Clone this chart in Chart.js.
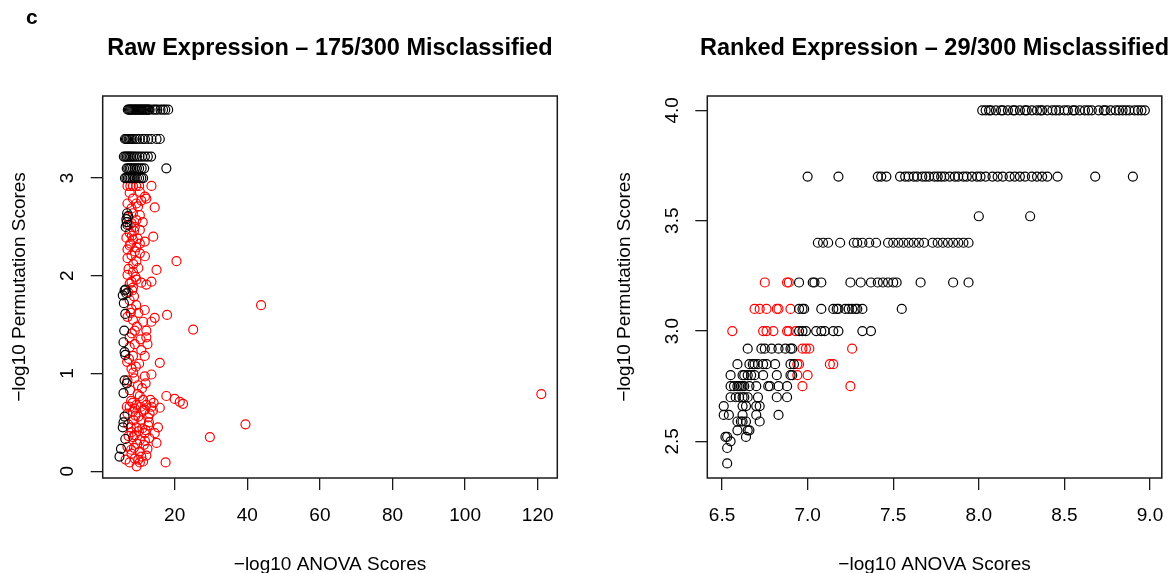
<!DOCTYPE html>
<html><head><meta charset="utf-8">
<script src="https://cdn.jsdelivr.net/npm/chart.js@4.4.0/dist/chart.umd.min.js"></script>
<style>
html,body{margin:0;padding:0;background:#fff;}
#wrap{position:relative;width:1172px;height:573px;overflow:hidden;background:#fff;}
canvas{position:absolute;top:0;}
#c1{left:0;} #c2{left:586px;}
</style></head>
<body><div id="wrap"><canvas id="c1" width="586" height="573"></canvas><canvas id="c2" width="586" height="573"></canvas></div>
<script>
// ---------------- DATA ----------------
const panelLabel = 'c';
const rawTitle = 'Raw Expression – 175/300 Misclassified';
const rankedTitle = 'Ranked Expression – 29/300 Misclassified';
const xAxisTitle = '−log10 ANOVA Scores';
const yAxisTitle = '−log10 Permutation Scores';

const rawXTicks = [20, 40, 60, 80, 100, 120];
const rawYTicks = [0, 1, 2, 3];
const rawYTickLabels = ['0', '1', '2', '3'];
const rankedXTicks = [6.5, 7.0, 7.5, 8.0, 8.5, 9.0];
const rankedXTickLabels = ['6.5', '7.0', '7.5', '8.0', '8.5', '9.0'];
const rankedYTicks = [2.5, 3.0, 3.5, 4.0];
const rankedYTickLabels = ['2.5', '3.0', '3.5', '4.0'];

// Raw expression panel: black (correct) points, rows of discrete permutation scores
const rawBlackLevels = [3.70, 3.40, 3.22, 3.10, 3.00];
const rawBlackRowsX = [
  [7.1,7.4,7.7,8.0,8.3,8.6,8.9,9.2,9.5,9.8,10.1,10.4,10.7,11.0,11.3,11.6,11.9,12.2,12.5,12.8,13.1,14.0,14.6,15.2,16.1,16.8,17.4,18.2],
  [6.3,6.6,6.9,7.3,7.6,8.0,8.4,9.0,9.6,10.4,11.2,11.8,12.7,13.6,15.0,15.9],
  [6.0,6.4,6.8,7.2,7.6,8.0,8.5,9.0,9.6,10.3,11.0,11.8,12.6,13.5],
  [6.8,7.2,7.6,8.0,8.5,9.0,9.6,10.2,10.9,11.6,17.7],
  [6.3,6.7,7.1,7.5,7.9,8.4,9.0,9.6,10.2,10.8,11.3]
];
const rawBlackScatter = [
  [6.9,2.64],[6.7,2.58],[6.8,2.55],[7.0,2.52],[6.5,2.50],[7.2,2.61],
  [6.2,1.85],[5.7,1.80],[6.7,1.82],[6.5,1.86],[6.0,1.72],[6.4,1.61],[6.1,1.44],[5.9,1.32],
  [6.2,1.22],[6.4,1.19],[6.2,0.93],[6.8,0.90],[5.9,0.80],[6.2,0.56],[5.9,0.50],[5.7,0.45],
  [6.4,0.33],[5.2,0.23],[4.8,0.15]
];
const rawRed = [
  [7.0,2.92],[7.8,2.92],[8.5,2.92],[9.4,2.92],[13.6,2.92],[10.2,2.92],
  [7.6,2.85],[10.4,2.86],[11.8,2.81],[8.5,2.79],[12.2,2.79],[9.45,2.74],[14.5,2.70],[7.0,2.74],[9.9,2.71],[8.1,2.69],[10.8,2.77],
  [8.5,2.64],[10.4,2.62],[7.0,2.60],[9.45,2.57],[8.1,2.54],[9.0,2.50],[10.4,2.47],[7.6,2.52],[11.2,2.55],
  [7.6,2.44],[14.1,2.40],[6.7,2.39],[8.5,2.37],[11.75,2.35],[7.6,2.31],[9.45,2.29],[7.0,2.27],[9.0,2.25],[10.4,2.33],[8.2,2.41],
  [10.4,2.23],[8.1,2.21],[7.0,2.18],[9.45,2.15],[20.5,2.15],[8.6,2.12],[15.0,2.06],[8.5,2.04],[7.0,2.01],[10.0,2.08],[11.8,2.20],
  [9.45,1.96],[10.8,1.93],[13.6,1.94],[7.6,1.92],[8.1,1.94],[12.2,1.91],[8.5,1.88],
  [11.75,1.65],[14.5,1.57],[17.9,1.60],[25.1,1.45],[43.8,1.70],[7.6,1.75],[8.1,1.66],[7.0,1.58],[8.5,1.55],[11.3,1.53],
  [13.6,1.53],[12.2,1.44],[9.0,1.44],[7.6,1.37],[12.2,1.37],[9.4,1.70],[10.0,1.62],[8.8,1.79],[7.2,1.83],
  [8.5,1.18],[10.8,1.24],[11.75,1.18],[15.9,1.11],[8.1,1.05],[11.75,0.97],[13.6,0.99],[7.0,0.93],[9.9,0.88],[9.0,1.30],
  [7.6,1.27],[10.2,1.10],[8.6,1.01],[6.9,1.12],[12.5,1.30],
  [10.4,0.77],[11.3,0.73],[17.7,0.77],[20.0,0.74],[21.4,0.71],[22.3,0.69],[7.6,0.66],[9.45,0.68],[12.2,0.68],[13.6,0.66],
  [15.9,0.65],[7.0,0.59],[8.5,0.61],[11.3,0.62],[13.1,0.59],[121.0,0.79],[8.0,0.72],[9.0,0.64],[10.0,0.56],[12.7,0.55],[6.8,0.66],[14.2,0.70],
  [10.8,0.52],[12.7,0.47],[9.45,0.45],[15.4,0.45],[8.1,0.40],[11.75,0.39],[14.5,0.39],[8.5,0.35],[10.4,0.32],[15.0,0.29],
  [29.7,0.35],[39.5,0.48],[7.2,0.48],[9.0,0.37],[13.0,0.34],[12.0,0.42],
  [7.0,0.25],[10.4,0.20],[8.1,0.18],[10.8,0.15],[7.6,0.09],[10.4,0.09],[11.3,0.10],[17.5,0.09],[9.0,0.13],[8.0,0.22],
  [11.5,0.27],[12.2,0.16],[6.5,0.12],[9.5,0.05],
  [7.8,2.33],[8.8,2.46],[9.8,2.38],[7.3,2.07],[9.2,1.99],[8.3,1.85],[7.9,1.62],[9.6,1.48],[8.2,1.41],[10.6,1.35],
  [7.4,1.15],[9.3,1.07],[8.9,0.95],[7.7,0.83],[11.0,0.85],[9.8,0.79],[8.4,0.70],[10.7,0.66],[11.8,0.63],[9.2,0.57],
  [8.7,0.52],[7.9,0.45],[11.1,0.44],[10.1,0.41],[12.9,0.50],[9.7,0.28],[8.8,0.24],[11.8,0.31],[10.0,0.12],[12.5,0.23],
  [7.3,0.36],[13.3,0.73],[12.0,0.90],[14.0,0.62]
];

// Ranked expression panel: rows of discrete permutation scores
const rankedLevels = [4.00, 3.70, 3.52, 3.40, 3.22, 3.10, 3.00, 2.92, 2.85, 2.80, 2.75, 2.70, 2.66, 2.62, 2.59, 2.55, 2.52, 2.50, 2.47, 2.40];
const rankedBlackX = [
  [8.02,8.04,8.06,8.07,8.10,8.13,8.14,8.17,8.20,8.21,8.24,8.27,8.28,8.31,8.34,8.36,8.37,8.40,8.43,8.45,8.47,8.50,8.52,8.55,8.56,8.59,8.62,8.64,8.66,8.70,8.73,8.74,8.77,8.80,8.82,8.84,8.86,8.88,8.91,8.93,8.95,8.97],
  [7.00,7.18,7.41,7.43,7.46,7.54,7.57,7.59,7.62,7.64,7.67,7.69,7.71,7.74,7.76,7.78,7.80,7.83,7.86,7.88,7.91,7.93,7.96,7.99,8.01,8.04,8.08,8.11,8.14,8.18,8.21,8.24,8.27,8.31,8.34,8.37,8.40,8.46,8.68,8.90],
  [8.00,8.30],
  [7.06,7.09,7.12,7.19,7.27,7.29,7.32,7.36,7.40,7.47,7.50,7.53,7.56,7.59,7.62,7.65,7.68,7.73,7.76,7.79,7.82,7.85,7.88,7.91,7.94],
  [6.95,7.03,7.04,7.08,7.25,7.31,7.37,7.41,7.44,7.47,7.50,7.52,7.66,7.85,7.94],
  [6.95,6.97,6.98,7.08,7.15,7.17,7.18,7.22,7.24,7.26,7.28,7.29,7.32,7.55],
  [6.95,6.97,6.99,7.05,7.08,7.10,7.15,7.18,7.32,7.37],
  [6.65,6.73,6.75,6.79,6.83,6.87,6.90,6.91],
  [6.59,6.66,6.68,6.69,6.71,6.74,6.76,6.81,6.90,6.92],
  [6.55,6.62,6.63,6.65,6.67,6.69,6.74,6.82,6.90,6.91],
  [6.55,6.57,6.59,6.60,6.61,6.62,6.63,6.66,6.70,6.77,6.78,6.83,6.88],
  [6.55,6.58,6.60,6.62,6.63,6.65,6.71,6.82,6.88],
  [6.51,6.62,6.64,6.70,6.72],
  [6.51,6.54,6.62,6.70,6.83],
  [6.59,6.61,6.62,6.64,6.72],
  [6.59,6.65,6.66],
  [6.52,6.53,6.64],
  [6.55],
  [6.53],
  [6.53]
];
const rankedRedX = [
  [], [], [], [],
  [6.75,6.88,6.89],
  [6.69,6.72,6.76,6.82,6.83,6.90],
  [6.56,6.74,6.76,6.80,6.88,6.89,6.93],
  [6.97,6.99,7.01,7.26],
  [6.94,6.95,7.13,7.15],
  [6.94,7.00],
  [6.97,7.25],
  [], [], [], [], [], [], [], [], []
];

// ---------------- BUILD ----------------
function rowsToPoints(levels, rows) {
  const out = [];
  rows.forEach((xs, i) => xs.forEach(x => out.push({x: x, y: levels[i]})));
  return out;
}
const rawBlackPts = rowsToPoints(rawBlackLevels, rawBlackRowsX).concat(rawBlackScatter.map(p => ({x: p[0], y: p[1]})));
const rawRedPts = rawRed.map(p => ({x: p[0], y: p[1]}));
const rankedBlackPts = rowsToPoints(rankedLevels, rankedBlackX);
const rankedRedPts = rowsToPoints(rankedLevels, rankedRedX);

const FONT = "'Liberation Sans', Arial, Helvetica, sans-serif";

const rFrame = {
  id: 'rFrame',
  afterDraw(chart, args, o) {
    const ctx = chart.ctx, a = chart.chartArea;
    ctx.save();
    ctx.strokeStyle = '#1a1a1a';
    ctx.lineWidth = 1.5;
    ctx.strokeRect(a.left, a.top, a.right - a.left, a.bottom - a.top);
    // rotated y tick labels (R style, parallel to axis)
    const ys = chart.scales.y;
    ctx.fillStyle = '#000';
    ctx.font = '19px ' + FONT;
    ctx.textAlign = 'center';
    ctx.textBaseline = 'middle';
    o.yTicks.forEach((v, i) => {
      const py = ys.getPixelForValue(v);
      ctx.save();
      ctx.translate(o.yLabelX, py);
      ctx.rotate(-Math.PI / 2);
      ctx.fillText(o.yLabels[i], 0, 0);
      ctx.restore();
    });
    // main title centred on plot region
    ctx.font = 'bold 23.5px ' + FONT;
    ctx.fillText(o.title, (a.left + a.right) / 2, o.titleY);
    if (o.panel) {
      ctx.font = 'bold 21px ' + FONT;
      ctx.textAlign = 'left';
      ctx.fillText(o.panel, 26, 18);
    }
    ctx.restore();
  }
};

function makeChart(id, cfg) {
  return new Chart(document.getElementById(id), {
    type: 'scatter',
    data: {
      datasets: [
        {data: cfg.black, borderColor: '#000000', backgroundColor: 'rgba(0,0,0,0)'},
        {data: cfg.red, borderColor: '#ff0000', backgroundColor: 'rgba(0,0,0,0)'}
      ]
    },
    options: {
      responsive: false,
      animation: false,
      devicePixelRatio: 1,
      events: [],
      layout: {padding: {left: 0, right: cfg.padRight, top: 96, bottom: 0}},
      elements: {point: {radius: 4.5, hoverRadius: 4.5, borderWidth: 1.2, pointStyle: 'circle'}},
      plugins: {
        legend: {display: false},
        tooltip: {enabled: false},
        title: {display: false},
        rFrame: {yTicks: cfg.yTicks, yLabels: cfg.yLabels, yLabelX: cfg.yLabelX, title: cfg.title, titleY: 49, panel: cfg.panel}
      },
      scales: {
        x: {
          type: 'linear', min: cfg.xMin, max: cfg.xMax,
          afterBuildTicks: s => { s.ticks = cfg.xTicks.map(v => ({value: v})); },
          afterFit: s => { s.height = 95; s.paddingLeft = 0; s.paddingRight = 0; s.paddingTop = 0; s.paddingBottom = 0; },
          grid: {drawOnChartArea: false, drawTicks: true, tickLength: 12, color: '#1a1a1a', lineWidth: 1.3},
          border: {display: false},
          ticks: {color: '#000', font: {family: FONT, size: 19}, padding: 14.6, maxRotation: 0, minRotation: 0, autoSkip: false,
                  callback: (v, i) => cfg.xLabels[i]},
          title: {display: true, text: xAxisTitle, color: '#000', font: {family: FONT, size: 19, lineHeight: 1}, padding: {top: 0, bottom: -1}}
        },
        y: {
          type: 'linear', min: cfg.yMin, max: cfg.yMax,
          afterBuildTicks: s => { s.ticks = cfg.yTicks.map(v => ({value: v})); },
          afterFit: s => { s.width = cfg.yWidth; s.paddingLeft = 0; s.paddingRight = 0; s.paddingTop = 0; s.paddingBottom = 0; },
          grid: {drawOnChartArea: false, drawTicks: true, tickLength: 12, color: '#1a1a1a', lineWidth: 1.3},
          border: {display: false},
          ticks: {color: 'rgba(0,0,0,0)', font: {family: FONT, size: 19}},
          title: {display: true, text: yAxisTitle, color: '#000', font: {family: FONT, size: 19, lineHeight: 1}, padding: {top: cfg.yTitlePad, bottom: 0}}
        }
      }
    },
    plugins: [rFrame]
  });
}

makeChart('c1', {
  black: rawBlackPts, red: rawRedPts,
  xMin: 0.17, xMax: 125.4, yMin: -0.069, yMax: 3.84,
  xTicks: rawXTicks, xLabels: rawXTicks.map(String),
  yTicks: rawYTicks, yLabels: rawYTickLabels,
  yWidth: 102.7, padRight: 586 - 557.3, yLabelX: 67.5, yTitlePad: 10.5,
  title: rawTitle, panel: panelLabel
});
makeChart('c2', {
  black: rankedBlackPts, red: rankedRedPts,
  xMin: 6.414, xMax: 9.069, yMin: 2.334, yMax: 4.065,
  xTicks: rankedXTicks, xLabels: rankedXTickLabels,
  yTicks: rankedYTicks, yLabels: rankedYTickLabels,
  yWidth: 121.3, padRight: 586 - 575.8, yLabelX: 86.5, yTitlePad: 29.5,
  title: rankedTitle, panel: null
});
</script>
</body></html>
